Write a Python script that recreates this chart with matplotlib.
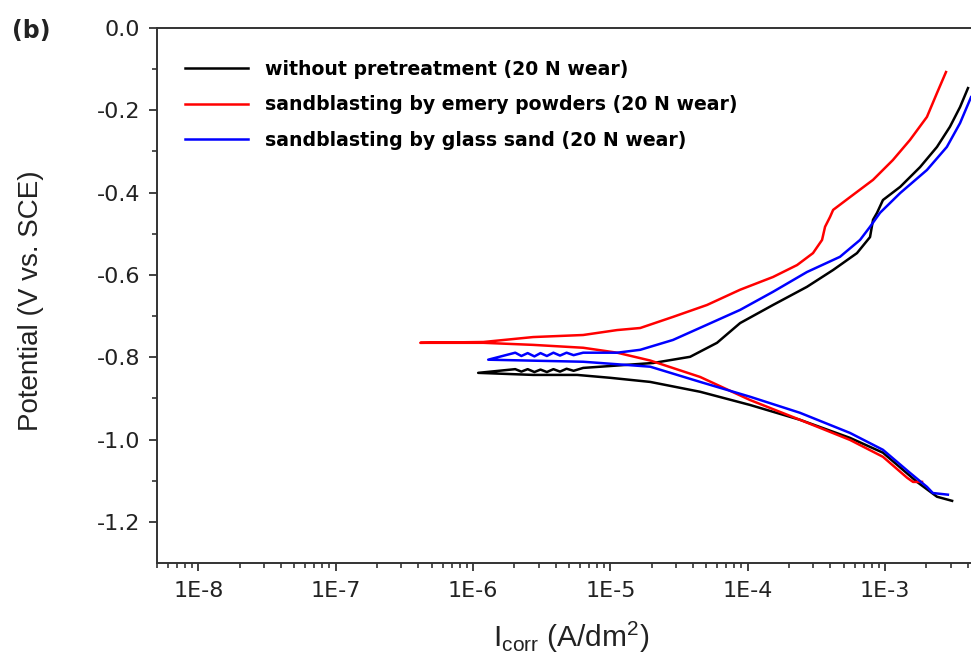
import matplotlib
matplotlib.use("Agg")
import matplotlib.pyplot as plt
from matplotlib.ticker import LogLocator, FixedLocator, NullFormatter, FuncFormatter
import numpy as np

plt.rcParams['font.family'] = ['Liberation Sans', 'DejaVu Sans']
plt.rcParams['mathtext.default'] = 'regular'

# polarisation curves: current density (A/dm2) and potential (V vs SCE)
# each run goes from the cathodic end, through Ecorr, up the anodic branch
i_plain = [3.08e-3, 2.39e-3, 1.71e-3, 9.66e-4, 5.56e-4, 2.40e-4, 1.04e-4, 4.51e-5,
           1.95e-5, 9.97e-6, 5.73e-6, 2.74e-6, 1.09e-6, 2.03e-6, 2.25e-6, 2.50e-6,
           2.80e-6, 3.10e-6, 3.45e-6, 3.85e-6, 4.30e-6, 4.80e-6, 5.40e-6, 6.34e-6,
           2.05e-5, 3.81e-5, 5.98e-5, 8.81e-5, 1.53e-4, 2.70e-4, 4.19e-4, 6.25e-4,
           7.78e-4, 8.18e-4, 8.75e-4, 9.66e-4, 1.29e-3, 1.80e-3, 2.39e-3, 2.97e-3,
           3.52e-3, 4.02e-3]
e_plain = [-1.149, -1.139, -1.103, -1.032, -0.996, -0.952, -0.916, -0.884,
           -0.860, -0.850, -0.843, -0.843, -0.838, -0.829, -0.835, -0.829,
           -0.836, -0.830, -0.836, -0.829, -0.835, -0.828, -0.833, -0.826,
           -0.814, -0.799, -0.765, -0.717, -0.673, -0.629, -0.588, -0.547,
           -0.508, -0.466, -0.449, -0.418, -0.386, -0.338, -0.289, -0.240,
           -0.192, -0.146]

i_emery = [1.86e-3, 1.60e-3, 1.45e-3, 9.66e-4, 5.56e-4, 2.40e-4, 1.04e-4, 4.51e-5,
           1.95e-5, 1.12e-5, 6.34e-6, 2.74e-6, 1.19e-6, 4.13e-7, 1.19e-6, 2.74e-6,
           6.34e-6, 1.12e-5, 1.65e-5, 2.86e-5, 5.06e-5, 8.81e-5, 1.53e-4, 2.29e-4,
           2.99e-4, 3.48e-4, 3.66e-4, 3.98e-4, 4.19e-4, 5.56e-4, 8.18e-4, 1.14e-3,
           1.52e-3, 2.02e-3, 2.39e-3, 2.78e-3]
e_emery = [-1.103, -1.103, -1.093, -1.042, -1.001, -0.952, -0.904, -0.848,
           -0.808, -0.789, -0.777, -0.770, -0.765, -0.765, -0.763, -0.751,
           -0.746, -0.734, -0.729, -0.702, -0.673, -0.636, -0.605, -0.576,
           -0.547, -0.515, -0.483, -0.459, -0.442, -0.411, -0.369, -0.321,
           -0.272, -0.216, -0.158, -0.107]

i_glass = [2.87e-3, 2.23e-3, 2.02e-3, 1.52e-3, 9.66e-4, 5.56e-4, 2.40e-4, 1.04e-4,
           4.51e-5, 1.95e-5, 8.43e-6, 6.34e-6, 1.29e-6, 2.03e-6, 2.25e-6, 2.50e-6,
           2.80e-6, 3.10e-6, 3.45e-6, 3.85e-6, 4.30e-6, 4.80e-6, 5.40e-6, 6.34e-6,
           1.12e-5, 1.65e-5, 2.86e-5, 5.06e-5, 8.81e-5, 1.53e-4, 2.70e-4, 4.70e-4,
           6.58e-4, 7.78e-4, 9.20e-4, 1.29e-3, 2.02e-3, 2.82e-3, 3.52e-3, 4.23e-3]
e_glass = [-1.134, -1.130, -1.115, -1.081, -1.025, -0.984, -0.935, -0.896,
           -0.860, -0.823, -0.814, -0.811, -0.806, -0.789, -0.797, -0.790,
           -0.798, -0.790, -0.797, -0.789, -0.796, -0.789, -0.795, -0.789,
           -0.789, -0.782, -0.758, -0.721, -0.685, -0.641, -0.593, -0.556,
           -0.515, -0.483, -0.449, -0.401, -0.345, -0.289, -0.231, -0.168]

labels = ['without pretreatment (20 N wear)',
          'sandblasting by emery powders (20 N wear)',
          'sandblasting by glass sand (20 N wear)']
colors = ['black', '#ff0000', '#0000ff']

fig = plt.figure(figsize=(9.71, 6.56), dpi=100)
ax = fig.add_axes([0.1617, 0.1418, 0.8486, 0.8155])

for i_vals, e_vals, lab, col in zip([i_plain, i_emery, i_glass],
                                    [e_plain, e_emery, e_glass], labels, colors):
    ax.plot(i_vals, e_vals, color=col, lw=1.8, label=lab)

ax.set_xscale('log')
ax.set_xlim(5e-9, 5e-3)
ax.set_ylim(-1.3, 0.0)

ax.xaxis.set_major_locator(LogLocator(base=10, numticks=20))
ax.xaxis.set_minor_locator(LogLocator(base=10, subs=np.arange(2, 10), numticks=20))
ax.xaxis.set_minor_formatter(NullFormatter())
ax.xaxis.set_major_formatter(FuncFormatter(lambda v, p: '1E%d' % round(np.log10(v))))
ax.yaxis.set_major_locator(FixedLocator([0.0, -0.2, -0.4, -0.6, -0.8, -1.0, -1.2]))
ax.yaxis.set_minor_locator(FixedLocator([-0.1, -0.3, -0.5, -0.7, -0.9, -1.1]))
ax.yaxis.set_major_formatter(FuncFormatter(lambda v, p: '%.1f' % v if abs(v) > 1e-9 else '0.0'))

for s in ax.spines.values():
    s.set_linewidth(1.4)
    s.set_color('#333333')
ax.tick_params(which='major', direction='out', length=6, width=1.3, colors='#333333',
               labelsize=16, labelcolor='#222222')
ax.tick_params(which='minor', direction='out', length=3.5, width=1.2, colors='#333333')
ax.tick_params(axis='x', which='major', pad=7)
ax.tick_params(axis='y', which='major', pad=6)
for t in ax.get_xticklabels() + ax.get_yticklabels():
    t.set_fontfamily('DejaVu Sans')

ax.set_ylabel('Potential (V vs. SCE)', fontsize=20, color='#222222')
ax.yaxis.set_label_coords(-0.137, 0.49)
fig.text(0.588, 0.013, r'I$_{corr}$ (A/dm$^2$)', fontsize=21.5, color='#222222',
         ha='center', va='baseline')
fig.text(0.012, 0.953, '(b)', fontsize=17, fontweight='bold', color='#222222',
         family='DejaVu Sans', ha='left', va='center')

ax.legend(loc='upper left', bbox_to_anchor=(0.034, 0.94), frameon=False,
          borderpad=0, borderaxespad=0, handlelength=3.33, handletextpad=0.9,
          labelspacing=0.86, prop={'family': 'DejaVu Sans', 'weight': 'bold', 'size': 13.6})

fig.savefig('out.png', dpi=100)
